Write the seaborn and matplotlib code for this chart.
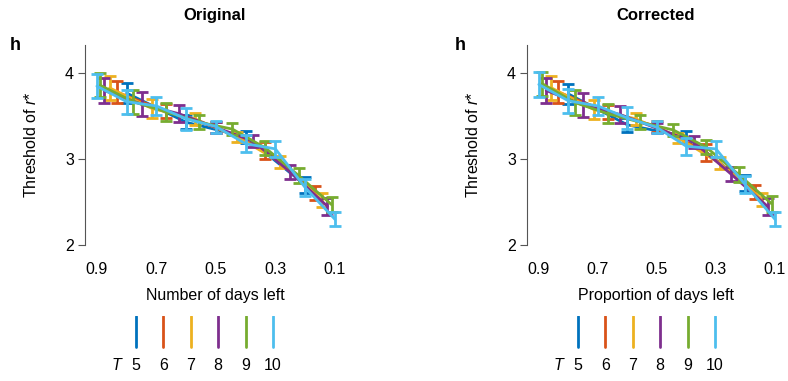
import numpy as np
import pandas as pd
import matplotlib.pyplot as plt
import seaborn as sns

sns.set_theme(style="ticks")
plt.rcParams['font.family'] = ['Liberation Sans', 'DejaVu Sans']
plt.rcParams['mathtext.fontset'] = 'custom'
plt.rcParams['mathtext.it'] = 'Liberation Sans:italic'
plt.rcParams['mathtext.rm'] = 'Liberation Sans'
plt.rcParams['text.color'] = 'black'
plt.rcParams['axes.labelcolor'] = 'black'

# Horizon lengths and colours
T_values = [5, 6, 7, 8, 9, 10]
colors = ["#0072BD", "#D95319", "#EDB120", "#7E2F8E", "#77AC30", "#4DBEEE"]

# Threshold of r* per T (days left k = T-1 ... 1)
orig_thr = {
    5: [3.77, 3.43, 3.26, 2.70],
    6: [3.78, 3.56, 3.37, 3.10, 2.61],
    7: [3.83, 3.59, 3.47, 3.26, 2.97, 2.52],
    8: [3.80, 3.64, 3.53, 3.37, 3.21, 2.85, 2.45],
    9: [3.86, 3.67, 3.55, 3.43, 3.35, 3.13, 2.81, 2.47],
    10: [3.85, 3.67, 3.62, 3.47, 3.38, 3.18, 3.12, 2.67, 2.30],
}
orig_err = {
    5: [0.12, 0.08, 0.07, 0.09],
    6: [0.13, 0.08, 0.06, 0.10, 0.08],
    7: [0.14, 0.11, 0.07, 0.06, 0.07, 0.08],
    8: [0.14, 0.14, 0.10, 0.06, 0.07, 0.08, 0.10],
    9: [0.14, 0.14, 0.11, 0.08, 0.07, 0.08, 0.09, 0.09],
    10: [0.14, 0.14, 0.10, 0.13, 0.07, 0.10, 0.09, 0.10, 0.08],
}
corr_thr = {
    5: [3.76, 3.40, 3.26, 2.72],
    6: [3.78, 3.55, 3.38, 3.08, 2.62],
    7: [3.83, 3.58, 3.47, 3.25, 2.95, 2.53],
    8: [3.80, 3.63, 3.52, 3.36, 3.20, 2.83, 2.45],
    9: [3.88, 3.66, 3.53, 3.43, 3.34, 3.14, 2.82, 2.48],
    10: [3.87, 3.68, 3.62, 3.48, 3.37, 3.15, 3.12, 2.70, 2.30],
}
corr_err = orig_err

x_ticks = [0.9, 0.7, 0.5, 0.3, 0.1]
y_ticks = [2, 3, 4]

FS = 11.5


def to_frame(thr, err):
    rows = []
    for T in T_values:
        for k, (y, e) in zip(range(T - 1, 0, -1), zip(thr[T], err[T])):
            rows.append({"T": T, "prop": k / T, "thr": y, "err": e})
    return pd.DataFrame(rows)


def draw_panel(ax, df, title, xlabel):
    for T, c in zip(T_values, colors):
        d = df[df["T"] == T]
        sns.lineplot(data=d, x="prop", y="thr", color=c, lw=2.0, ax=ax,
                     legend=False, zorder=3)
        ax.errorbar(d["prop"], d["thr"], yerr=d["err"], fmt="none",
                    ecolor=c, elinewidth=2.0, capsize=4, capthick=2.0,
                    zorder=3)
    ax.set_xlim(0.94, 0.066)
    ax.set_ylim(2, 4.33)
    ax.set_xticks(x_ticks)
    ax.set_xticklabels([f"{v:.1f}" for v in x_ticks])
    ax.set_yticks(y_ticks)
    ax.tick_params(axis="both", labelsize=FS, labelcolor="black")
    ax.tick_params(axis="y", length=5, width=0.8, color="#555555", pad=3)
    ax.tick_params(axis="x", length=0, pad=12)
    for s in ["top", "right", "bottom"]:
        ax.spines[s].set_visible(False)
    ax.spines["left"].set_color("#555555")
    ax.spines["left"].set_linewidth(0.8)
    ax.set_xlabel(xlabel, fontsize=FS, labelpad=8)
    ax.set_ylabel(r"Threshold of $r$*", fontsize=FS, labelpad=19)
    ax.set_title(title, fontsize=12, fontweight="bold", pad=18)


def draw_legend(lax, t_x, first_x, step):
    lax.set_xlim(0, lax.bbox.width)
    lax.set_ylim(0, 1)
    lax.axis("off")
    for i, (T, c) in enumerate(zip(T_values, colors)):
        xc = first_x + i * step
        lax.plot([xc, xc], [0.45, 1.0], color=c, lw=2.0)
        lax.text(xc, 0.0, str(T), ha="center", va="bottom", fontsize=FS)
    lax.text(t_x, 0.0, "T", ha="center", va="bottom", fontsize=FS,
             style="italic")


fig = plt.figure(figsize=(7.88, 3.81), dpi=100)
ax1 = fig.add_axes([85 / 788, 136 / 381, 260 / 788, 200 / 381])
ax2 = fig.add_axes([527 / 788, 136 / 381, 258 / 788, 200 / 381])

draw_panel(ax1, to_frame(orig_thr, orig_err), "Original", "Number of days left")
draw_panel(ax2, to_frame(corr_thr, corr_err), "Corrected", "Proportion of days left")

fig.text(10 / 788, 1 - 45 / 381, "h", fontsize=13, fontweight="bold", va="center")
fig.text(455 / 788, 1 - 45 / 381, "h", fontsize=13, fontweight="bold", va="center")

# legend axes use pixel units along x
lax1 = fig.add_axes([0, 8 / 381, 394 / 788, 57 / 381])
draw_legend(lax1, 116, 136, 27.4)
lax2 = fig.add_axes([394 / 788, 8 / 381, 394 / 788, 57 / 381])
draw_legend(lax2, 558 - 394, 578 - 394, 27.4)

fig.savefig("out.png", dpi=100)
